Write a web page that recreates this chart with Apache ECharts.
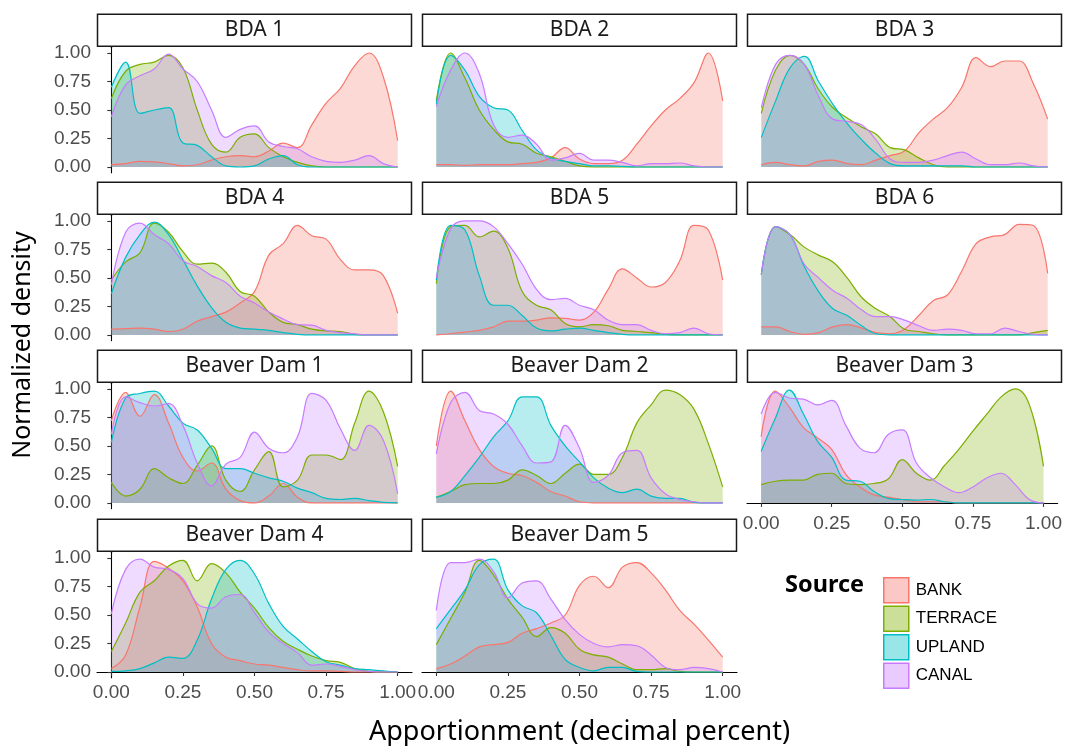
<!DOCTYPE html>
<html><head><meta charset="utf-8">
<script src="https://cdn.jsdelivr.net/npm/echarts@6/dist/echarts.min.js"></script>
<style>html,body{margin:0;padding:0;background:#fff}#c{width:1065px;height:746px}</style>
</head><body><div id="c"></div><script>
// ---- data ----
const xs = [0,0.05,0.1,0.15,0.2,0.25,0.3,0.35,0.4,0.45,0.5,0.55,0.6,0.65,0.7,0.75,0.8,0.85,0.9,0.95,1];
const tickValues = [0,0.25,0.5,0.75,1];
const sources = ['BANK','TERRACE','UPLAND','CANAL'];
const panelNames = ['BDA 1','BDA 2','BDA 3','BDA 4','BDA 5','BDA 6','Beaver Dam 1','Beaver Dam 2','Beaver Dam 3','Beaver Dam 4','Beaver Dam 5'];

const bda1Bank    = [0.02,0.03,0.05,0.045,0.03,0.01,0.02,0.06,0.09,0.1,0.09,0.14,0.21,0.17,0.37,0.56,0.69,0.89,1.0,0.79,0.23];
const bda1Terrace = [0.6,0.84,0.9,0.92,0.98,0.87,0.5,0.2,0.13,0.26,0.29,0.17,0.09,0.04,0.01,0,0,0,0,0,0];
const bda1Upland  = [0.7,0.92,0.47,0.5,0.52,0.21,0.19,0.09,0.01,0,0.01,0.07,0.1,0.02,0,0,0,0,0,0,0];
const bda1Canal   = [0.44,0.72,0.8,0.86,0.99,0.86,0.75,0.5,0.26,0.33,0.36,0.22,0.18,0.16,0.09,0.05,0.04,0.06,0.1,0.03,0];

const bda2Bank    = [0.02,0.02,0.015,0.02,0.02,0.02,0.03,0.04,0.08,0.17,0.07,0.03,0.03,0.06,0.2,0.36,0.5,0.6,0.74,1.0,0.58];
const bda2Terrace = [0.58,1.0,0.78,0.5,0.33,0.22,0.2,0.12,0.09,0.05,0.01,0,0,0,0,0,0,0,0,0,0];
const bda2Upland  = [0.55,0.98,0.85,0.62,0.52,0.5,0.32,0.15,0.08,0.05,0.03,0.01,0.01,0.005,0,0,0,0,0,0,0];
const bda2Canal   = [0.53,0.85,1.0,0.82,0.37,0.26,0.28,0.2,0.06,0.08,0.12,0.06,0.06,0.04,0.01,0.03,0.03,0.035,0.01,0,0];

const bda3Bank    = [0.02,0.04,0.02,0.01,0.05,0.06,0.03,0.02,0.06,0.1,0.14,0.3,0.42,0.52,0.7,0.96,0.88,0.93,0.93,0.73,0.42];
const bda3Terrace = [0.47,0.85,0.98,0.9,0.68,0.52,0.43,0.35,0.29,0.17,0.15,0.08,0.02,0,0,0,0,0,0,0,0];
const bda3Upland  = [0.26,0.58,0.87,0.97,0.75,0.55,0.38,0.24,0.12,0.03,0.01,0.01,0.01,0.01,0.01,0,0,0,0,0,0];
const bda3Canal   = [0.52,0.9,0.98,0.9,0.62,0.42,0.4,0.37,0.24,0.07,0.04,0.04,0.06,0.1,0.13,0.07,0.02,0.02,0.035,0.01,0];

const bda4Bank    = [0.05,0.055,0.06,0.05,0.03,0.05,0.12,0.16,0.2,0.28,0.38,0.7,0.8,0.96,0.87,0.84,0.66,0.57,0.57,0.52,0.19];
const bda4Terrace = [0.48,0.64,0.72,0.98,0.9,0.73,0.62,0.63,0.55,0.38,0.34,0.2,0.11,0.09,0.05,0.035,0.03,0.005,0,0,0];
const bda4Upland  = [0.36,0.68,0.88,0.99,0.88,0.66,0.43,0.24,0.11,0.06,0.05,0.04,0.02,0.005,0,0,0,0,0,0,0];
const bda4Canal   = [0.44,0.9,0.98,0.88,0.8,0.65,0.6,0.52,0.46,0.34,0.28,0.2,0.14,0.09,0.085,0.04,0.02,0.01,0,0,0];

const bda5Bank    = [0,0.01,0.025,0.04,0.07,0.12,0.12,0.13,0.15,0.145,0.13,0.2,0.4,0.58,0.5,0.42,0.46,0.65,0.96,0.92,0.48];
const bda5Terrace = [0.45,0.95,0.96,0.86,0.91,0.76,0.38,0.26,0.22,0.1,0.07,0.09,0.08,0.04,0.03,0.02,0.005,0,0,0,0];
const bda5Upland  = [0.48,0.96,0.92,0.52,0.26,0.26,0.17,0.06,0.035,0.05,0.06,0.04,0.02,0.005,0,0,0,0,0,0,0];
const bda5Canal   = [0.5,0.93,1.0,1.0,0.95,0.8,0.62,0.4,0.31,0.32,0.26,0.22,0.13,0.09,0.09,0.04,0.01,0.02,0.06,0.01,0];

const bda6Bank    = [0.07,0.07,0.03,0.005,0.02,0.07,0.09,0.06,0.02,0.01,0.05,0.17,0.3,0.35,0.56,0.8,0.86,0.88,0.97,0.96,0.54];
const bda6Terrace = [0.53,0.95,0.88,0.77,0.7,0.64,0.5,0.33,0.23,0.16,0.05,0.03,0.01,0,0,0,0,0,0,0.02,0.04];
const bda6Upland  = [0.53,0.95,0.88,0.6,0.38,0.23,0.17,0.08,0.01,0,0,0,0,0,0,0,0,0,0,0,0];
const bda6Canal   = [0.53,0.95,0.88,0.62,0.5,0.39,0.32,0.22,0.16,0.16,0.13,0.08,0.04,0.05,0.04,0.01,0.01,0.06,0.03,0.005,0];

const bd1Bank     = [0.72,0.97,0.76,0.95,0.7,0.4,0.28,0.35,0.12,0.02,0,0.06,0.17,0.05,0,0,0,0,0,0,0];
const bd1Terrace  = [0.18,0.06,0.12,0.3,0.22,0.17,0.33,0.5,0.2,0.1,0.29,0.45,0.14,0.2,0.42,0.42,0.38,0.7,0.98,0.8,0.32];
const bd1Upland   = [0.53,0.92,0.96,0.98,0.85,0.7,0.64,0.48,0.3,0.3,0.26,0.22,0.19,0.13,0.09,0.04,0.03,0.04,0.02,0.005,0];
const bd1Canal    = [0.6,0.93,0.88,0.85,0.87,0.68,0.35,0.15,0.34,0.4,0.62,0.48,0.44,0.58,0.96,0.9,0.65,0.46,0.68,0.55,0.08];

const bd2Bank     = [0.5,0.98,0.72,0.47,0.32,0.26,0.24,0.18,0.1,0.06,0.01,0,0,0,0,0,0,0,0,0,0];
const bd2Terrace  = [0.05,0.1,0.16,0.17,0.17,0.2,0.29,0.24,0.17,0.26,0.34,0.25,0.25,0.4,0.7,0.86,0.99,0.95,0.82,0.52,0.14];
const bd2Upland   = [0.05,0.1,0.24,0.4,0.58,0.72,0.93,0.93,0.68,0.5,0.36,0.22,0.13,0.09,0.12,0.06,0.04,0.04,0.005,0,0];
const bd2Canal    = [0.43,0.88,0.97,0.81,0.78,0.69,0.5,0.35,0.36,0.68,0.48,0.18,0.24,0.44,0.46,0.22,0.08,0.03,0.01,0,0];

const bd3Bank     = [0.58,0.98,0.84,0.66,0.57,0.47,0.25,0.14,0.07,0.05,0.03,0.01,0.01,0.01,0,0,0,0,0,0,0];
const bd3Terrace  = [0.16,0.19,0.2,0.2,0.25,0.26,0.17,0.16,0.17,0.21,0.38,0.26,0.2,0.33,0.47,0.63,0.78,0.93,1.0,0.86,0.32];
const bd3Upland   = [0.45,0.74,0.99,0.78,0.54,0.4,0.2,0.19,0.1,0.04,0.03,0.025,0.03,0.01,0,0,0,0,0,0,0];
const bd3Canal    = [0.78,0.97,0.92,0.91,0.86,0.9,0.68,0.48,0.44,0.6,0.64,0.35,0.22,0.14,0.09,0.14,0.22,0.26,0.16,0.03,0];

const bd4Bank     = [0.03,0.15,0.57,0.97,0.91,0.8,0.57,0.25,0.13,0.1,0.07,0.06,0.04,0.02,0.01,0.01,0.005,0,0,0,0];
const bd4Terrace  = [0.18,0.43,0.7,0.8,0.93,0.98,0.8,0.95,0.87,0.7,0.56,0.39,0.27,0.2,0.14,0.1,0.085,0.03,0.005,0,0];
const bd4Upland   = [0.005,0.01,0.03,0.08,0.13,0.12,0.28,0.64,0.9,0.98,0.86,0.6,0.4,0.29,0.18,0.09,0.06,0.03,0.02,0.01,0];
const bd4Canal    = [0.51,0.9,0.99,0.92,0.9,0.82,0.6,0.56,0.66,0.68,0.52,0.35,0.25,0.17,0.06,0.07,0.05,0.02,0.005,0,0];

const bd5Bank     = [0.03,0.07,0.14,0.22,0.24,0.26,0.34,0.38,0.43,0.5,0.76,0.84,0.74,0.92,0.96,0.87,0.72,0.54,0.42,0.28,0.13];
const bd5Terrace  = [0.24,0.47,0.7,0.98,0.85,0.64,0.48,0.31,0.39,0.34,0.2,0.15,0.13,0.07,0.02,0.02,0.03,0.005,0,0,0];
const bd5Upland   = [0.38,0.55,0.72,0.94,0.99,0.72,0.58,0.52,0.32,0.11,0.04,0.01,0.04,0.04,0.005,0,0,0,0,0,0];
const bd5Canal    = [0.54,0.96,0.96,0.99,0.88,0.65,0.78,0.8,0.64,0.46,0.33,0.25,0.22,0.24,0.23,0.15,0.04,0.02,0.04,0.03,0];

const panelSeries = [
  [bda1Bank,bda1Terrace,bda1Upland,bda1Canal],
  [bda2Bank,bda2Terrace,bda2Upland,bda2Canal],
  [bda3Bank,bda3Terrace,bda3Upland,bda3Canal],
  [bda4Bank,bda4Terrace,bda4Upland,bda4Canal],
  [bda5Bank,bda5Terrace,bda5Upland,bda5Canal],
  [bda6Bank,bda6Terrace,bda6Upland,bda6Canal],
  [bd1Bank,bd1Terrace,bd1Upland,bd1Canal],
  [bd2Bank,bd2Terrace,bd2Upland,bd2Canal],
  [bd3Bank,bd3Terrace,bd3Upland,bd3Canal],
  [bd4Bank,bd4Terrace,bd4Upland,bd4Canal],
  [bd5Bank,bd5Terrace,bd5Upland,bd5Canal]
];

// ---- style / layout ----
const colors = ['#F8766D','#7CAE00','#00BFC4','#C77CFF'];
const fills  = ['rgba(248,118,109,0.4)','rgba(124,174,0,0.4)','rgba(0,191,196,0.4)','rgba(199,124,255,0.4)'];
const colLeft = [97, 422, 747];
const rowTop = [47.3, 215.2, 383.2, 552.3];
const panelW = 315, panelH = 125.4, stripH = 32;
const bottomPanels = [8, 9, 10];
const labelFont = 'Liberation Sans';
const titleFont = 'Noto Sans, Open Sans, sans-serif';

const grids = [], xAxes = [], yAxes = [], series = [], graphics = [];
panelNames.forEach((name, i) => {
  const c = i % 3, r = Math.floor(i / 3);
  const left = colLeft[c], top = rowTop[r];
  grids.push({left: left, top: top, width: panelW, height: panelH, containLabel: false});
  xAxes.push({
    gridIndex: i, type: 'value', min: -0.05, max: 1.05,
    show: bottomPanels.includes(i),
    splitLine: {show: false},
    axisLine: {show: true, lineStyle: {color: '#000', width: 1.1}},
    axisTick: {show: true, customValues: tickValues, length: 4, lineStyle: {color: '#333', width: 1.1}},
    axisLabel: {customValues: tickValues, formatter: v => v.toFixed(2), color: '#4D4D4D', fontSize: 19, fontFamily: labelFont, margin: 6}
  });
  yAxes.push({
    gridIndex: i, type: 'value', min: -0.05, max: 1.05,
    show: c === 0,
    splitLine: {show: false},
    axisLine: {show: true, lineStyle: {color: '#000', width: 1.1}},
    axisTick: {show: true, customValues: tickValues, length: 4, lineStyle: {color: '#333', width: 1.1}},
    axisLabel: {customValues: tickValues, formatter: v => v.toFixed(2), color: '#4D4D4D', fontSize: 19, fontFamily: labelFont, margin: 6}
  });
  panelSeries[i].forEach((vals, s) => {
    series.push({
      name: sources[s], type: 'line', xAxisIndex: i, yAxisIndex: i,
      data: xs.map((x, k) => [x, vals[k]]),
      smooth: 0.4, symbol: 'none', showSymbol: false, silent: true,
      lineStyle: {color: colors[s], width: 1.2},
      itemStyle: {color: colors[s]},
      areaStyle: {color: fills[s], origin: 0}
    });
  });
  graphics.push({
    type: 'rect', shape: {x: left + 0.5, y: top - stripH - 1, width: panelW - 1, height: stripH},
    style: {fill: '#fff', stroke: '#1a1a1a', lineWidth: 1.5}, z: 10
  });
  graphics.push({
    type: 'text', x: left + panelW / 2, y: top - stripH / 2 - 1,
    style: {text: name, fill: '#1a1a1a', font: '21px ' + titleFont, textAlign: 'center', textVerticalAlign: 'middle'}, z: 11
  });
});

graphics.push({
  type: 'text', x: 579.5, y: 732,
  style: {text: 'Apportionment (decimal percent)', fill: '#000', font: '27px ' + titleFont, textAlign: 'center', textVerticalAlign: 'middle'}
});
graphics.push({
  type: 'text', x: 23, y: 345, rotation: Math.PI / 2,
  style: {text: 'Normalized density', fill: '#000', font: '25px ' + titleFont, textAlign: 'center', textVerticalAlign: 'middle'}
});
graphics.push({
  type: 'text', x: 785, y: 585,
  style: {text: 'Source', fill: '#000', font: 'bold 23.5px ' + titleFont, textAlign: 'left', textVerticalAlign: 'middle'}
});

const chart = echarts.init(document.getElementById('c'), null, {renderer: 'canvas'});
chart.setOption({
  animation: false,
  backgroundColor: '#fff',
  grid: grids, xAxis: xAxes, yAxis: yAxes, series: series,
  legend: {
    orient: 'vertical', left: 878, top: 572, itemWidth: 25, itemHeight: 25, itemGap: 2,
    icon: 'rect', selectedMode: false,
    data: sources.map((s, i) => ({name: s, itemStyle: {color: fills[i], borderColor: colors[i], borderWidth: 1.5}})),
    textStyle: {fontSize: 17, color: '#000', fontFamily: labelFont, padding: [0, 0, 0, 2]}
  },
  graphic: graphics
});
</script></body></html>
